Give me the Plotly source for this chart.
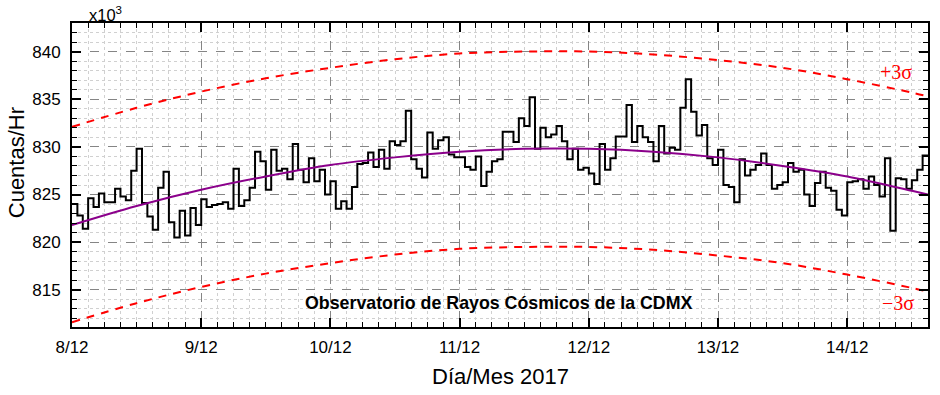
import plotly.graph_objects as go

# Hourly counts (x10^3) starting 8/12 00:00
counts_day8 = [824.0, 822.8, 821.4, 824.6, 823.7, 825.1, 824.2, 824.2, 825.6, 824.8, 824.4, 827.5,
               829.8, 824.1, 822.7, 821.3, 825.7, 827.4, 822.1, 820.5, 823.3, 820.7, 823.6, 821.8]
counts_day9 = [824.5, 823.7, 823.9, 824.0, 824.2, 823.5, 827.7, 823.8, 824.4, 825.7, 829.5, 828.5,
               825.5, 829.7, 827.5, 827.7, 826.6, 830.3, 827.6, 826.3, 828.8, 826.4, 827.6, 825.0]
counts_day10 = [826.4, 823.5, 824.3, 823.5, 825.8, 828.2, 828.3, 829.4, 827.9, 829.7, 827.7, 830.6,
                830.2, 830.6, 833.8, 828.7, 827.7, 826.8, 831.5, 829.8, 830.7, 831.0, 829.2, 828.9]
counts_day11 = [828.9, 827.9, 827.6, 829.0, 825.9, 827.4, 828.5, 828.7, 831.6, 831.6, 830.5, 833.0,
                832.2, 835.2, 829.8, 832.0, 831.0, 831.3, 832.2, 830.6, 828.7, 829.8, 827.6, 827.8]
counts_day12 = [827.2, 826.1, 830.3, 827.6, 828.8, 831.1, 831.1, 834.4, 830.5, 832.2, 831.0, 830.5,
                828.5, 832.2, 829.3, 829.9, 829.7, 834.1, 837.1, 833.7, 831.2, 832.3, 828.8, 828.1]
counts_day13 = [829.7, 826.0, 825.8, 824.2, 828.7, 827.0, 827.6, 828.1, 829.3, 828.1, 825.6, 826.0,
                826.3, 828.3, 827.4, 827.6, 825.0, 823.8, 826.2, 827.4, 825.7, 825.4, 823.4, 822.8]
counts_day14 = [826.3, 826.4, 826.6, 825.6, 826.9, 826.0, 824.8, 828.8, 821.2, 826.7, 826.6, 825.6,
                826.5, 827.6, 829.1]

# Fit curve and +/-3 sigma bands read at every 12 h (last point at hour 159)
fit_hours = [0, 12, 24, 36, 48, 60, 72, 84, 96, 108, 120, 132, 144, 156, 159]
fit_vals = [821.8, 823.8, 825.5, 826.9, 828.1, 828.9, 829.5, 829.8, 829.8, 829.5, 828.9, 828.0,
            826.9, 825.4, 825.0]
upper_vals = [832.1, 834.1, 835.8, 837.2, 838.3, 839.2, 839.8, 840.0, 840.0, 839.7, 839.1, 838.3,
              837.1, 835.7, 835.3]
lower_vals = [811.6, 813.6, 815.3, 816.7, 817.8, 818.7, 819.3, 819.5, 819.5, 819.2, 818.6, 817.8,
              816.6, 815.2, 814.8]

tick_hours = [0, 24, 48, 72, 96, 120, 144]
tick_labels = ["8/12", "9/12", "10/12", "11/12", "12/12", "13/12", "14/12"]

counts = counts_day8 + counts_day9 + counts_day10 + counts_day11 + counts_day12 + counts_day13 + counts_day14
hours = list(range(len(counts))) + [len(counts)]
step_y = counts + [counts[-1]]

FONT = "Liberation Sans, Arial, sans-serif"
SERIF = "Liberation Serif, Times New Roman, serif"

fig = go.Figure()
fig.add_trace(go.Scatter(x=fit_hours, y=upper_vals, mode="lines", line=dict(color="#ff0000", width=2, dash="8px,7px", shape="spline"), hoverinfo="skip"))
fig.add_trace(go.Scatter(x=fit_hours, y=lower_vals, mode="lines", line=dict(color="#ff0000", width=2, dash="8px,7px", shape="spline"), hoverinfo="skip"))
fig.add_trace(go.Scatter(x=hours, y=step_y, mode="lines", line=dict(color="black", width=2, shape="hv")))
fig.add_trace(go.Scatter(x=fit_hours, y=fit_vals, mode="lines", line=dict(color="#8b008b", width=2, shape="spline")))

axis_common = dict(
    showline=True, linecolor="black", linewidth=2, mirror="allticks",
    ticks="inside", ticklen=9, tickwidth=1.5, tickcolor="black",
    showgrid=True, gridcolor="#858585", gridwidth=1, griddash="dash",
    zeroline=False,
    tickfont=dict(family=FONT, size=17, color="black"),
)

fig.update_xaxes(
    range=[0, 159], tickvals=tick_hours, ticktext=tick_labels,
    minor=dict(dtick=3, tick0=0, ticks="inside", ticklen=5, tickcolor="black", tickwidth=1.2,
               showgrid=True, gridcolor="#d0d0d0", griddash="dot", gridwidth=1),
    ticklabelstandoff=4,
    **axis_common,
)
fig.update_yaxes(
    range=[811.1, 843.0], tick0=815, dtick=5,
    minor=dict(dtick=1, tick0=815, ticks="inside", ticklen=5, tickcolor="black", tickwidth=1.2,
               showgrid=True, gridcolor="#d0d0d0", griddash="dot", gridwidth=1),
    ticklabelstandoff=6,
    **axis_common,
)

annotations = [
    dict(text="x10<sup>3</sup>", xref="paper", yref="paper", x=0.018, y=1.0, xanchor="left", yanchor="bottom",
         showarrow=False, font=dict(family=FONT, size=16.5, color="black"), yshift=-3),
    dict(text="<b>Observatorio de Rayos Cósmicos de la CDMX</b>", xref="paper", yref="paper", x=0.4977, y=0.079,
         xanchor="center", yanchor="middle", showarrow=False, font=dict(family=FONT, size=17.8, color="black")),
    dict(text="Cuentas/Hr", xref="paper", yref="paper", x=-0.0653, y=0.539, textangle=-90,
         xanchor="center", yanchor="middle", showarrow=False, font=dict(family=FONT, size=22, color="black")),
    dict(text="Día/Mes 2017", xref="paper", yref="paper", x=0.5, y=-0.164,
         xanchor="center", yanchor="middle", showarrow=False, font=dict(family=FONT, size=22, color="black")),
    dict(text="+3σ", xref="paper", yref="paper", x=(898 - 72) / 858, y=(327 - 72) / 304.3,
         xanchor="center", yanchor="middle", showarrow=False, font=dict(family=SERIF, size=20, color="#ff0000")),
    dict(text="−3σ", xref="paper", yref="paper", x=(900 - 72) / 858, y=(327 - 303) / 304.3,
         xanchor="center", yanchor="middle", showarrow=False, font=dict(family=SERIF, size=20, color="#ff0000")),
]

fig.update_layout(
    width=940, height=395,
    margin=dict(l=72, r=10, t=23, b=68),
    paper_bgcolor="white", plot_bgcolor="white",
    showlegend=False,
    annotations=annotations,
)

fig.write_html("out.html", config={"displayModeBar": False},
               post_script="document.body.style.margin='0';document.body.style.overflow='hidden';")
